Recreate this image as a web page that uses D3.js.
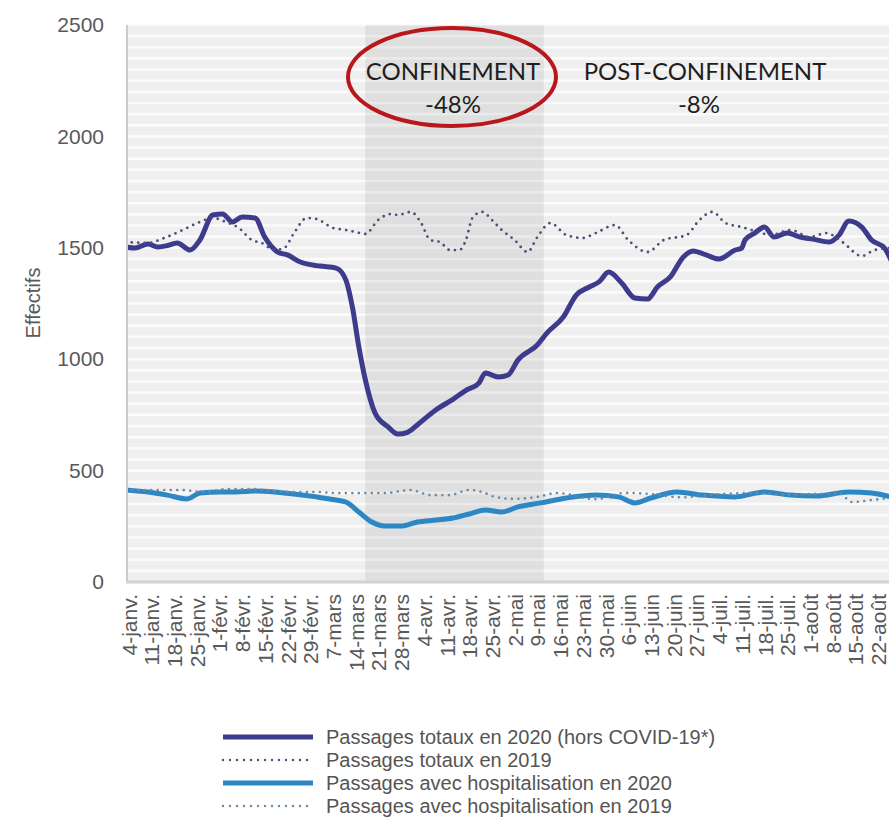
<!DOCTYPE html>
<html>
<head>
<meta charset="utf-8">
<script src="https://cdn.jsdelivr.net/npm/d3@7"></script>
<style>
body { margin: 0; background: #fff; }
svg text { font-family: "Liberation Sans", Arial, sans-serif; }
</style>
</head>
<body>
<div id="paper"></div>
<script>

// chart data.

const yTicks = [0, 500, 1000, 1500, 2000, 2500]

const xTickLabels = ["4-janv.", "11-janv.", "18-janv.", "25-janv.", "1-févr.", "8-févr.", "15-févr.", "22-févr.", "29-févr.",
    "7-mars", "14-mars", "21-mars", "28-mars", "4-avr.", "11-avr.", "18-avr.", "25-avr.", "2-mai", "9-mai", "16-mai",
    "23-mai", "30-mai", "6-juin", "13-juin", "20-juin", "27-juin", "4-juil.", "11-juil.", "18-juil.", "25-juil.",
    "1-août", "8-août", "15-août", "22-août"]

const legendLabels = ["Passages totaux en 2020 (hors COVID-19*)", "Passages totaux en 2019",
    "Passages avec hospitalisation en 2020", "Passages avec hospitalisation en 2019"]

const periods = [
    { label: "CONFINEMENT", change: "-48%", start: "03-17", end: "05-11" },
    { label: "POST-CONFINEMENT", change: "-8%", start: "05-11", end: "08-26" }
]

// passages totaux 2020 (hors covid)
const total2020 = [
    ["01-03", 1504], ["01-06", 1499], ["01-10", 1517], ["01-13", 1504], ["01-16", 1510], ["01-19", 1522],
    ["01-23", 1490], ["01-26", 1535], ["01-30", 1647], ["02-02", 1652], ["02-05", 1616], ["02-08", 1638],
    ["02-12", 1634], ["02-15", 1548], ["02-19", 1481], ["02-22", 1468], ["02-26", 1436], ["03-03", 1418],
    ["03-08", 1409], ["03-11", 1355], ["03-13", 1234], ["03-15", 1055], ["03-17", 907], ["03-20", 758],
    ["03-24", 696], ["03-27", 664], ["03-30", 672], ["04-02", 705], ["04-05", 741], ["04-08", 775],
    ["04-13", 820], ["04-17", 860], ["04-21", 893], ["04-23", 938], ["04-27", 920], ["04-30", 929],
    ["05-03", 996], ["05-09", 1064], ["05-12", 1118], ["05-17", 1189], ["05-21", 1288], ["05-25", 1324],
    ["05-28", 1347], ["05-31", 1391], ["06-04", 1342], ["06-08", 1275], ["06-12", 1270], ["06-15", 1324],
    ["06-19", 1369], ["06-23", 1459], ["06-26", 1486], ["06-30", 1468], ["07-04", 1450], ["07-09", 1490],
    ["07-11", 1499], ["07-12", 1535], ["07-15", 1566], ["07-18", 1593], ["07-21", 1548], ["07-25", 1566],
    ["07-29", 1548], ["08-02", 1539], ["08-07", 1526], ["08-10", 1557], ["08-13", 1620], ["08-17", 1593],
    ["08-20", 1535], ["08-24", 1499], ["08-26", 1445]
]

// passages totaux 2019
const total2019 = [
    ["01-03", 1526], ["01-10", 1522], ["01-15", 1544], ["01-22", 1589], ["01-26", 1616], ["01-30", 1634],
    ["02-03", 1616], ["02-07", 1589], ["02-11", 1535], ["02-14", 1522], ["02-18", 1490], ["02-21", 1499],
    ["02-24", 1566], ["02-28", 1634], ["03-02", 1629], ["03-07", 1589], ["03-11", 1580], ["03-14", 1571],
    ["03-17", 1562], ["03-21", 1625], ["03-25", 1652], ["03-27", 1647], ["03-31", 1661], ["04-03", 1616],
    ["04-06", 1535], ["04-09", 1526], ["04-12", 1490], ["04-15", 1490], ["04-17", 1535], ["04-19", 1634],
    ["04-22", 1661], ["04-25", 1625], ["04-28", 1580], ["05-02", 1535], ["05-06", 1481], ["05-09", 1548],
    ["05-13", 1611], ["05-18", 1557], ["05-23", 1544], ["05-27", 1566], ["06-02", 1602], ["06-06", 1535],
    ["06-12", 1481], ["06-17", 1535], ["06-24", 1557], ["06-28", 1625], ["07-02", 1661], ["07-06", 1611],
    ["07-11", 1593], ["07-16", 1571], ["07-20", 1557], ["07-26", 1580], ["08-01", 1548], ["08-06", 1566],
    ["08-11", 1526], ["08-17", 1463], ["08-21", 1490], ["08-26", 1499]
]

// passages avec hospitalisation 2020
const hosp2020 = [
    ["01-03", 413], ["01-10", 404], ["01-16", 390], ["01-22", 373], ["01-26", 399], ["02-01", 404],
    ["02-06", 404], ["02-12", 408], ["02-18", 404], ["02-24", 395], ["03-02", 382], ["03-08", 368],
    ["03-11", 359], ["03-15", 314], ["03-19", 269], ["03-23", 251], ["03-28", 251], ["04-02", 269],
    ["04-08", 278], ["04-13", 287], ["04-18", 305], ["04-23", 323], ["04-28", 314], ["05-03", 337],
    ["05-10", 355], ["05-18", 377], ["05-27", 390], ["06-03", 382], ["06-08", 355], ["06-13", 377],
    ["06-21", 404], ["06-29", 390], ["07-09", 382], ["07-18", 404], ["07-26", 390], ["08-03", 386],
    ["08-13", 404], ["08-20", 399], ["08-26", 382]
]

// passages avec hospitalisation 2019
const hosp2019 = [
    ["01-03", 413], ["01-20", 413], ["01-27", 404], ["02-03", 417], ["02-11", 417], ["02-18", 408],
    ["02-25", 404], ["03-02", 404], ["03-08", 399], ["03-15", 399], ["03-23", 399], ["03-31", 413],
    ["04-06", 390], ["04-12", 390], ["04-18", 413], ["04-22", 404], ["04-26", 382], ["05-02", 373],
    ["05-09", 382], ["05-15", 399], ["05-27", 372], ["06-05", 400], ["06-15", 392], ["06-22", 380],
    ["07-05", 395], ["07-15", 400], ["07-25", 392], ["08-04", 396], ["08-10", 398], ["08-14", 359],
    ["08-20", 368], ["08-26", 377]
]

const parseDay = d3.timeParse("%Y-%m-%d")
const day = s => parseDay("2020-" + s)

// canvas

const W = 889, H = 818
const plotLeft = 127, plotTop = 25, plotBottom = 582, plotRight = 889

const svg = d3.select("#paper")
    .append("svg")
    .attr("id", "canvas")
    .attr("width", W)
    .attr("height", H)

const x = d3.scaleTime().domain([day("01-04"), day("08-22")]).range([128.5, 878])
const y = d3.scaleLinear().domain([0, 2500]).range([plotBottom, plotTop])

// plot background with fine white stripes.

svg.append("rect")
    .attr("x", plotLeft).attr("y", plotTop)
    .attr("width", plotRight - plotLeft).attr("height", plotBottom - plotTop)
    .style("fill", "#efefef")

svg.append("g")
    .selectAll("line")
    .data(d3.range(50, 2501, 50))
    .join("line")
    .attr("x1", plotLeft).attr("x2", plotRight)
    .attr("y1", d => y(d)).attr("y2", d => y(d))
    .style("stroke", "#fbfbfb")
    .style("stroke-width", 2.6)

// confinement shading.

svg.append("rect")
    .attr("x", x(day(periods[0].start)))
    .attr("y", plotTop)
    .attr("width", x(day(periods[0].end)) - x(day(periods[0].start)))
    .attr("height", plotBottom - plotTop)
    .style("fill", "#000")
    .style("opacity", 0.065)

// axes

const yAxis = svg.append("g")
    .attr("transform", `translate(${plotLeft},0)`)
    .call(d3.axisLeft(y).tickValues(yTicks).tickSize(0).tickPadding(23).tickFormat(d => d))
yAxis.select(".domain").remove()
yAxis.selectAll("text")
    .style("font-size", "21px")
    .style("fill", "#595959")

const tickDates = d3.timeDay.range(day("01-04"), day("08-23"), 7)

const xAxis = svg.append("g")
    .attr("transform", `translate(0,${plotBottom})`)
    .call(d3.axisBottom(x).tickValues(tickDates).tickSize(0).tickFormat((d, i) => xTickLabels[i]))
xAxis.select(".domain").remove()
xAxis.selectAll("text")
    .attr("transform", "rotate(-90)")
    .attr("text-anchor", "end")
    .attr("x", -12)
    .attr("y", 0)
    .attr("dy", "0.36em")
    .style("font-size", "21px")
    .style("fill", "#595959")

svg.append("line")
    .attr("x1", plotLeft).attr("x2", plotLeft).attr("y1", plotTop).attr("y2", plotBottom)
    .style("stroke", "#cccccc").style("stroke-width", 2)

svg.append("line")
    .attr("x1", plotLeft - 1).attr("x2", plotRight).attr("y1", plotBottom).attr("y2", plotBottom)
    .style("stroke", "#d2d2d2").style("stroke-width", 3)

svg.append("text")
    .attr("transform", `translate(33,303) rotate(-90)`)
    .attr("text-anchor", "middle")
    .attr("dy", "0.36em")
    .style("font-size", "20px")
    .style("fill", "#595959")
    .text("Effectifs")

// series lines.

svg.append("clipPath").attr("id", "plotclip")
    .append("rect")
    .attr("x", plotLeft + 1).attr("y", 0).attr("width", plotRight - plotLeft).attr("height", plotBottom)

const line = d3.line()
    .x(d => x(day(d[0])))
    .y(d => y(d[1]))
    .curve(d3.curveMonotoneX)

const series = [
    { data: total2020, color: "#3d3b8c", width: 5, dash: null },
    { data: total2019, color: "#4e4e78", width: 2.8, dash: "0,6.5" },
    { data: hosp2020, color: "#2c87c4", width: 5, dash: null },
    { data: hosp2019, color: "#6d8aa2", width: 2.6, dash: "0,6.5" }
]

const plot = svg.append("g").attr("clip-path", "url(#plotclip)")

plot.selectAll(".series")
    .data(series)
    .join("path")
    .attr("class", "series")
    .attr("d", d => line(d.data))
    .style("fill", "none")
    .style("stroke", d => d.color)
    .style("stroke-width", d => d.width)
    .style("stroke-dasharray", d => d.dash)
    .style("stroke-linecap", "round")
    .style("stroke-linejoin", "round")

// period annotations.

const labelX = [453, 705]

svg.selectAll(".period_label")
    .data(periods)
    .join("text")
    .attr("class", "period_label")
    .attr("x", (d, i) => labelX[i])
    .attr("y", 80)
    .attr("text-anchor", "middle")
    .style("font-family", "Lato, 'Open Sans', sans-serif")
    .style("font-size", "24px")
    .style("fill", "#1e1e1e")
    .text(d => d.label)

svg.selectAll(".period_change")
    .data(periods)
    .join("text")
    .attr("class", "period_change")
    .attr("x", (d, i) => labelX[i] - (i ? 6 : 0))
    .attr("y", 113)
    .attr("text-anchor", "middle")
    .style("font-family", "Lato, 'Open Sans', sans-serif")
    .style("font-size", "24px")
    .style("fill", "#1e1e1e")
    .text(d => d.change)

svg.append("ellipse")
    .attr("cx", 452).attr("cy", 77)
    .attr("rx", 104).attr("ry", 49)
    .style("fill", "none")
    .style("stroke", "#b8171c")
    .style("stroke-width", 4)

// legend

const legendY = [737, 760, 783, 806]

const legend = svg.selectAll(".legend_row")
    .data(series)
    .join("g")
    .attr("class", "legend_row")
    .attr("transform", (d, i) => `translate(0,${legendY[i]})`)

legend.append("line")
    .attr("x1", 223).attr("x2", 313)
    .style("stroke", d => d.color)
    .style("stroke-width", d => d.dash ? 2.4 : 5)
    .style("stroke-dasharray", d => d.dash ? "0,7" : null)
    .style("stroke-linecap", d => d.dash ? "round" : "butt")

legend.append("text")
    .attr("x", 326)
    .attr("dy", "0.36em")
    .style("font-size", "20px")
    .style("fill", "#555555")
    .text((d, i) => legendLabels[i])

</script>
</body>
</html>
